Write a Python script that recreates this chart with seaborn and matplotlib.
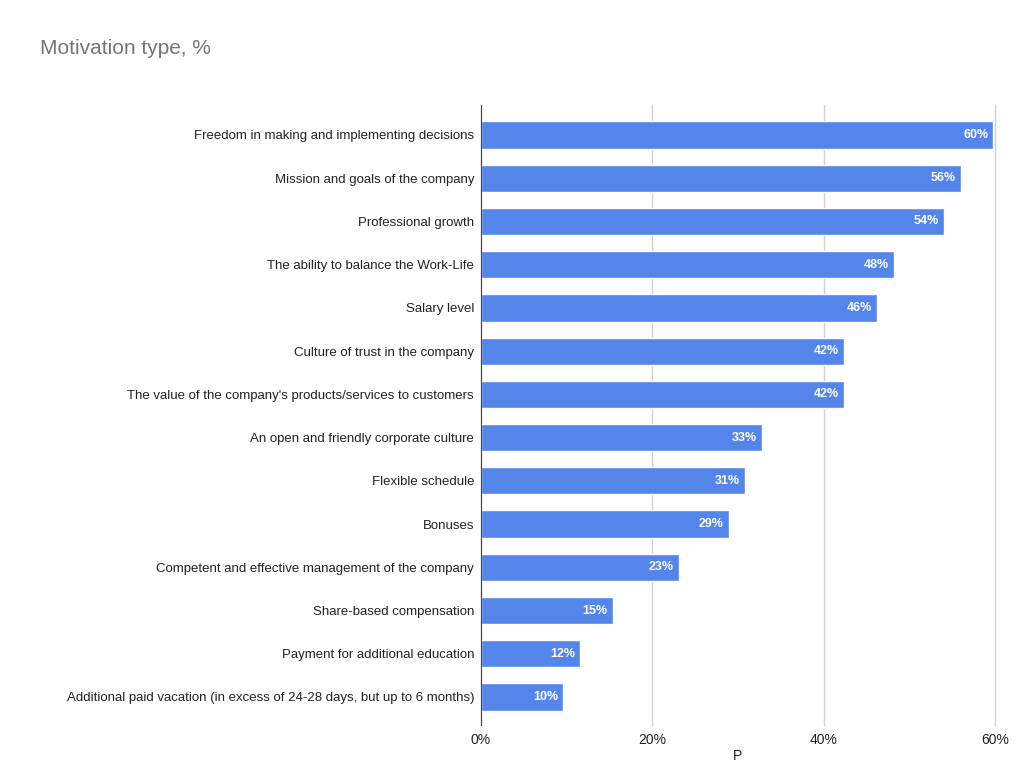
import pandas as pd
import numpy as np
import matplotlib
matplotlib.use("Agg")
import matplotlib.pyplot as plt
import seaborn as sns

motivations = [
    "Freedom in making and implementing decisions",
    "Mission and goals of the company",
    "Professional growth",
    "The ability to balance the Work-Life",
    "Salary level",
    "Culture of trust in the company",
    "The value of the company's products/services to customers",
    "An open and friendly corporate culture",
    "Flexible schedule",
    "Bonuses",
    "Competent and effective management of the company",
    "Share-based compensation",
    "Payment for additional education",
    "Additional paid vacation (in excess of 24-28 days, but up to 6 months)",
]
share = [59.8, 56.0, 54.0, 48.2, 46.2, 42.4, 42.4, 32.8, 30.8, 28.9, 23.1, 15.4, 11.6, 9.6]
xticks = [0, 20, 40, 60]

df = pd.DataFrame({"motivation": motivations, "share": share})

sns.set_style("white")
plt.rcParams['font.family'] = ['Liberation Sans', 'DejaVu Sans']

fig = plt.figure(figsize=(10.24, 7.81), dpi=100)
ax = fig.add_axes([0.4697, 0.0717, 0.5020, 0.7939])

sns.barplot(data=df, x="share", y="motivation", color="#5485eb", saturation=1,
            width=0.63, ax=ax, zorder=3)

for bar, v in zip(ax.patches, share):
    ax.text(bar.get_width() - 0.6, bar.get_y() + bar.get_height() / 2, f"{v:.0f}%",
            color="white", ha="right", va="center", fontsize=9, fontweight="bold", zorder=4)

ax.set_xlim(0, 60)
ax.set_ylim(13.648, -0.694)
ax.set_xticks(xticks)
ax.set_xticklabels([f"{t}%" for t in xticks], fontsize=10, color="#222222")
ax.tick_params(axis="y", labelsize=9.5, colors="#222222", length=0, pad=5)
ax.tick_params(axis="x", length=0, pad=6)
ax.grid(axis="x", color="#d0d0d0", linewidth=1, zorder=0)
for gl in ax.get_xgridlines():
    gl.set_clip_on(False)
for s in ["top", "right", "bottom"]:
    ax.spines[s].set_visible(False)
ax.spines["left"].set_color("#444444")
ax.spines["left"].set_zorder(5)
ax.set_ylabel("")
ax.set_xlabel("P", fontsize=10, color="#222222", labelpad=1)

fig.text(0.039, 0.938, "Motivation type, %", fontsize=15, color="#757575", va="center")

fig.savefig("out.png", dpi=100)
